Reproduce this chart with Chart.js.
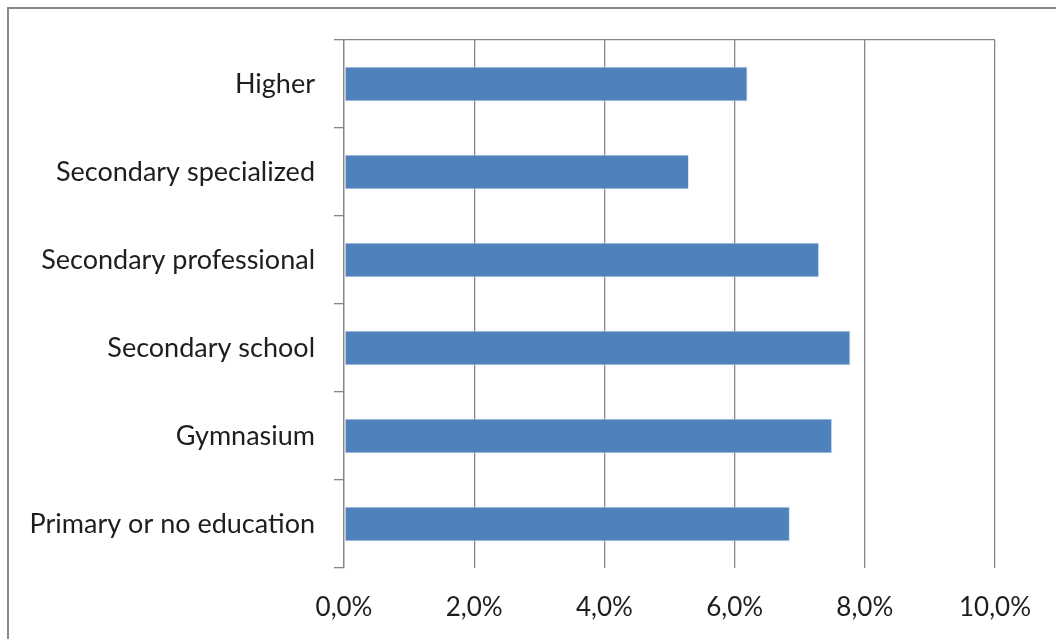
<!DOCTYPE html>
<html>
<head>
<meta charset="utf-8">
<script src="https://cdn.jsdelivr.net/npm/chart.js@4"></script>
<style>
  html, body { margin: 0; padding: 0; background: #fff; overflow: hidden; }
  #wrap { position: relative; width: 1056px; height: 639px; }
  #frame { position: absolute; left: 7px; top: 7px; width: 1100px; height: 700px; border: 2px solid #8a8a8a; box-sizing: border-box; }
  canvas { position: absolute; left: 0; top: 0; }
</style>
</head>
<body>
<div id="wrap">
  <div id="frame"></div>
  <canvas id="c" width="1056" height="639"></canvas>
</div>
<script>
const categories = ["Higher", "Secondary specialized", "Secondary professional", "Secondary school", "Gymnasium", "Primary or no education"];
const values = [6.2, 5.3, 7.3, 7.78, 7.5, 6.85];
const xTicks = [0, 2, 4, 6, 8, 10];

const gridGray = '#868686';
const fontFamily = 'Lato, "Noto Sans", sans-serif';

new Chart(document.getElementById('c'), {
  type: 'bar',
  data: {
    labels: categories,
    datasets: [{
      data: values,
      backgroundColor: '#4F81BD',
      borderColor: 'rgba(215,228,245,0.9)',
      borderWidth: 1,
      borderSkipped: false,
      barPercentage: 0.4,
      categoryPercentage: 1.0
    }]
  },
  options: {
    indexAxis: 'y',
    responsive: false,
    animation: false,
    devicePixelRatio: 1,
    layout: { padding: { left: 0, right: 61, top: 40, bottom: 0 } },
    plugins: { legend: { display: false }, tooltip: { enabled: false } },
    scales: {
      x: {
        min: 0, max: 10,
        afterBuildTicks: (s) => { s.ticks = xTicks.map(v => ({ value: v })); },
        afterFit: (s) => { s.height = 639 - 568; },
        border: { display: false },
        grid: { color: gridGray, lineWidth: 1.3, drawTicks: false },
        ticks: {
          padding: 24,
          color: '#1e1e1e',
          font: { family: fontFamily, size: 26 },
          callback: (v) => Number(v).toFixed(1).replace('.', ',') + '%'
        }
      },
      y: {
        afterFit: (s) => { s.width = 344; },
        border: { display: true, color: gridGray, width: 1.3 },
        grid: {
          offset: true,
          lineWidth: 1.3,
          color: (ctx) => ctx.index === 0 ? gridGray : 'rgba(0,0,0,0)',
          tickColor: gridGray,
          tickLength: 10,
          drawTicks: true
        },
        ticks: {
          padding: 19,
          color: '#1e1e1e',
          font: { family: fontFamily, size: 27 }
        }
      }
    }
  }
});
</script>
</body>
</html>
